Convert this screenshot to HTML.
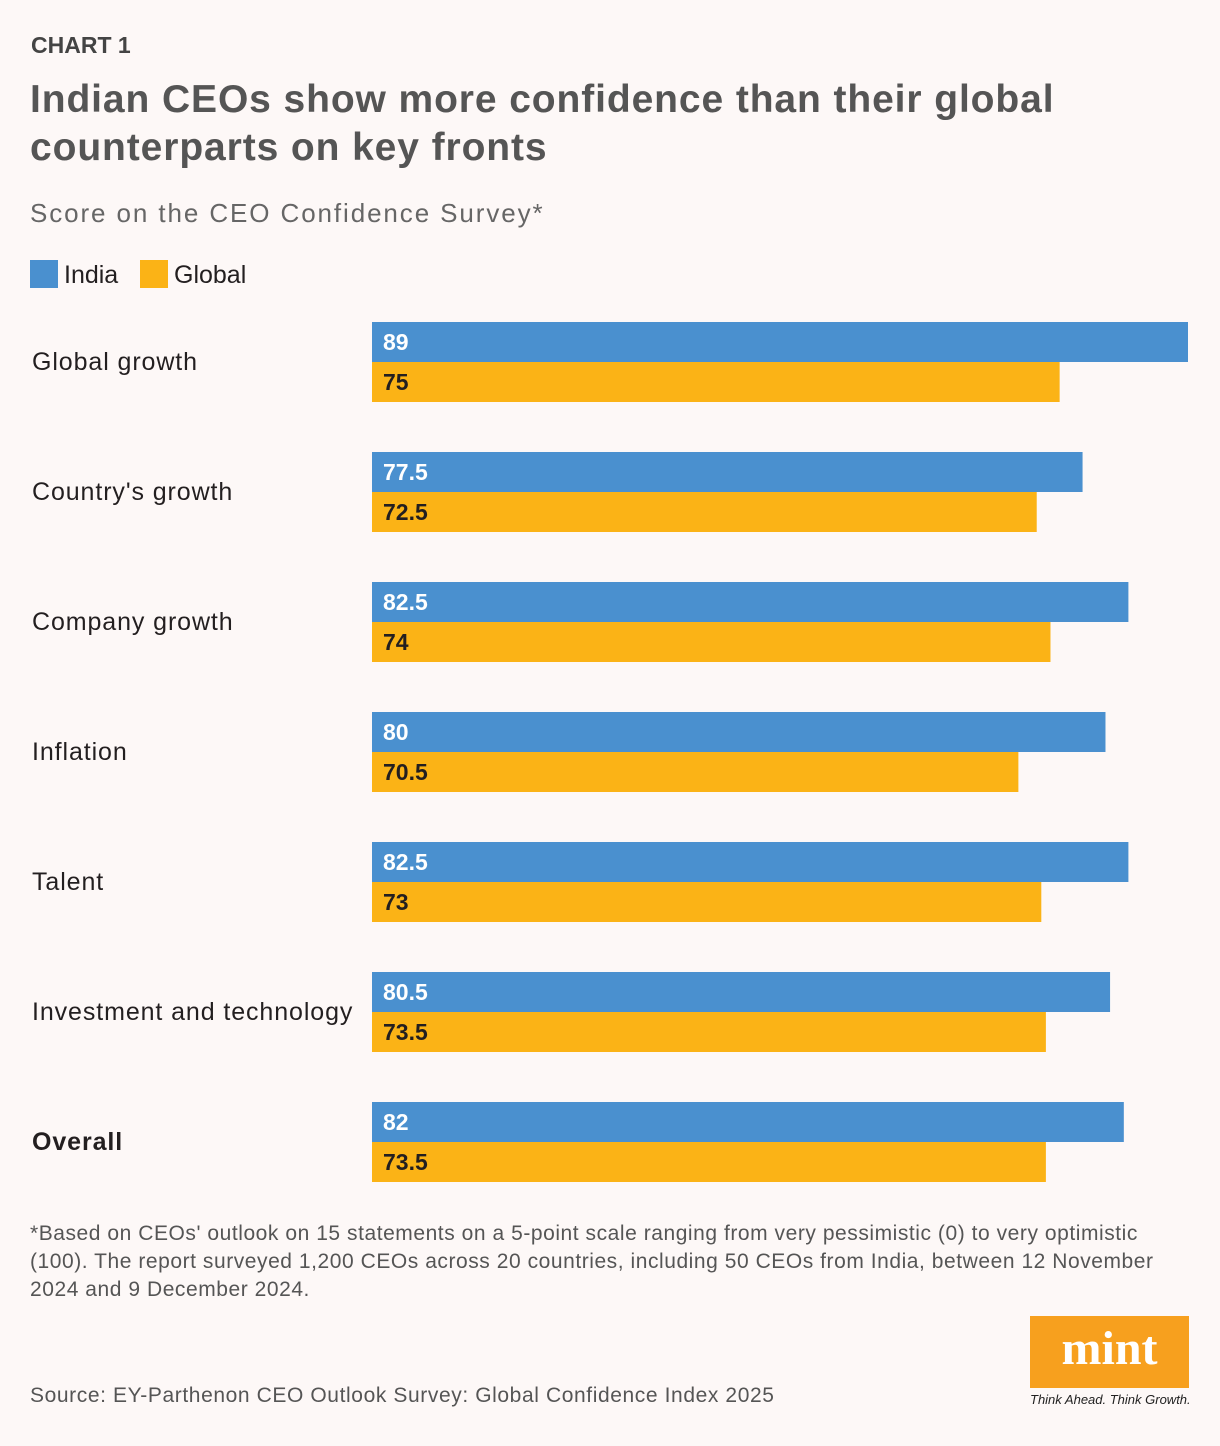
<!DOCTYPE html>
<html><head><meta charset="utf-8"><style>
body{margin:0;width:1220px;height:1446px;background:#fdf8f7;font-family:"Liberation Sans",sans-serif;color:#231f20;position:relative;overflow:hidden}
.a{position:absolute;white-space:nowrap}
</style></head><body>
<div class="a" style="left:31px;top:32px;font-size:23px;font-weight:bold;color:#444">CHART 1</div>
<div class="a" style="left:30px;top:76px;font-size:39px;font-weight:bold;line-height:48px;color:#555;letter-spacing:0.9px">Indian CEOs show more confidence than their global<br>counterparts on key fronts</div>
<div class="a" style="left:30px;top:198px;font-size:26px;color:#666;letter-spacing:1.9px">Score on the CEO Confidence Survey*</div>
<div class="a" style="left:30px;top:260px;font-size:25px"><span style="display:inline-block;width:28px;height:28px;background:#4a90cf;vertical-align:-5px;margin-right:6px"></span>India</div>
<div class="a" style="left:140px;top:260px;font-size:25px"><span style="display:inline-block;width:28px;height:28px;background:#fbb316;vertical-align:-5px;margin-right:6px"></span>Global</div>
<svg id="chart" width="1220" height="1446" style="position:absolute;left:0;top:0"></svg>
<div class="a" style="left:30px;top:1220px;font-size:21px;line-height:28px;color:#555;letter-spacing:0.55px">*Based on CEOs' outlook on 15 statements on a 5-point scale ranging from very pessimistic (0) to very optimistic<br>(100). The report surveyed 1,200 CEOs across 20 countries, including 50 CEOs from India, between 12 November<br>2024 and 9 December 2024.</div>
<div class="a" style="left:30px;top:1384px;font-size:21px;color:#555;letter-spacing:0.6px">Source: EY-Parthenon CEO Outlook Survey: Global Confidence Index 2025</div>
<div class="a" style="left:1030px;top:1316px;width:159px;height:72px;background:#f7a01e;color:#fff;font-family:'Liberation Serif',serif;font-weight:bold;font-size:48px;text-align:center;line-height:66px">mint</div>
<div class="a" style="left:1030px;top:1392px;font-size:13px;font-style:italic;color:#222;letter-spacing:0px">Think Ahead. Think Growth.</div>
<script>
const categories=["Global growth","Country's growth","Company growth","Inflation","Talent","Investment and technology","Overall"];
const indiaValues=[89,77.5,82.5,80,82.5,80.5,82];
const globalValues=[75,72.5,74,70.5,73,73.5,73.5];
const svg=document.getElementById('chart');
const NS='http://www.w3.org/2000/svg';
const x0=372,scale=816/89;
const xw=v=>v*scale;
const yg=i=>322+i*130;
function mk(t,a){const e=document.createElementNS(NS,t);for(const k in a)e.setAttribute(k,a[k]);svg.appendChild(e);return e;}
categories.forEach((c,i)=>{
  const y=yg(i);
  const lab=mk('text',{x:32,y:y+48,'font-size':25,fill:'#231f20','letter-spacing':0.9,'font-weight':i===categories.length-1?'bold':'normal'});
  lab.textContent=c;
  
  
  const b1=mk('rect',{x:x0,y:y,width:xw(indiaValues[i]),height:40,fill:'#4a90cf'});
  
  
  const t1=mk('text',{x:x0+11,y:y+28,'font-size':23,'font-weight':'bold',fill:'#fff'});
  t1.textContent=indiaValues[i];
  
  
  const b2=mk('rect',{x:x0,y:y+40,width:xw(globalValues[i]),height:40,fill:'#fbb316'});
  
  
  const t2=mk('text',{x:x0+11,y:y+68,'font-size':23,'font-weight':'bold',fill:'#231f20'});
  t2.textContent=globalValues[i];
  
  
});
</script>
</body></html>
